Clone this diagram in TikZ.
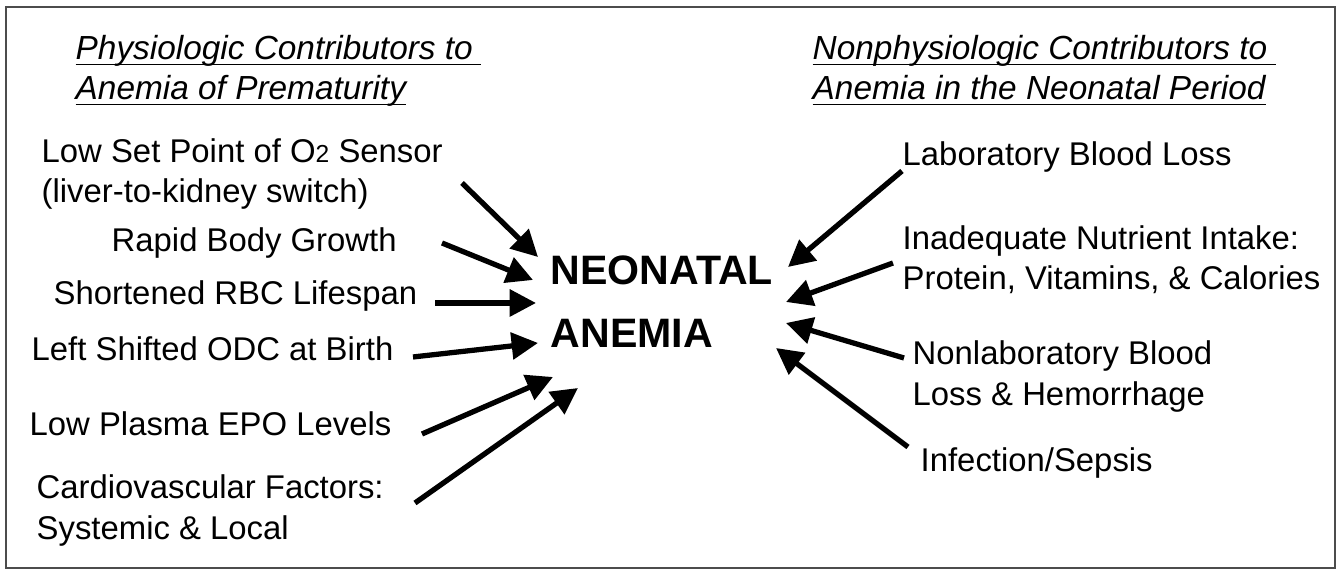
\documentclass[tikz,border=0pt]{standalone}
\usepackage{amsmath}
\usepackage{fontspec}
\setmainfont{Liberation Sans}
\usetikzlibrary{arrows.meta}

\newcommand{\ulhead}[1]{\underline{\smash[b]{#1}}}

\tikzset{
  item/.style={anchor=west, align=left, inner sep=0pt, font=\fontsize{9.35}{11.4}\selectfont},
  header/.style={item, font=\fontsize{9.5}{11.4}\selectfont\itshape},
  bigarrow/.style={line width=1.5pt, -{Triangle[length=7.5pt,width=7.5pt]}}
}

\begin{document}
\begin{tikzpicture}
\useasboundingbox (0,0) rectangle (13.41,5.72);
% Frame
\draw[gray!60!black, line width=0.6pt] (0.06,0.04) rectangle (13.35,5.65);

% Headers
\node[header] (physhead) at (0.75,5.01) {\ulhead{Physiologic Contributors to\hspace{0.25em}}\\\ulhead{Anemia of Prematurity}};
\node[header] (nonphyshead) at (8.12,5.01) {\ulhead{Nonphysiologic Contributors to\hspace{0.25em}}\\\ulhead{Anemia in the Neonatal Period}};

% Center
\node[anchor=west, align=left, inner sep=0pt, font=\fontsize{11.7}{18}\selectfont\bfseries] (anemia) at (5.50,2.705) {NEONATAL\\ANEMIA};

% Left side - physiologic
\node[item] (sensor) at (0.41,3.98) {Low Set Point of O{\fontsize{7}{8}\selectfont 2} Sensor\\(liver-to-kidney switch)};
\node[item] (growth) at (1.11,3.29) {Rapid Body Growth};
\node[item] (rbc) at (0.53,2.76) {Shortened RBC Lifespan};
\node[item] (odc) at (0.31,2.23) {Left Shifted ODC at Birth};
\node[item] (epo) at (0.29,1.48) {Low Plasma EPO Levels};
\node[item] (cardio) at (0.36,0.615) {Cardiovascular Factors:\\Systemic \& Local};

% Right side - nonphysiologic
\node[item] (lab) at (9.02,4.15) {Laboratory Blood Loss};
\node[item] (nutrient) at (9.02,3.12) {Inadequate Nutrient Intake:\\Protein, Vitamins, \& Calories};
\node[item] (nonlab) at (9.12,1.955) {Nonlaboratory Blood\\Loss \& Hemorrhage};
\node[item] (sepsis) at (9.20,1.09) {Infection/Sepsis};

% Arrow ends
\coordinate (sensorT) at (4.62,3.89);  \coordinate (sensorH) at (5.38,3.15);
\coordinate (growthT) at (4.42,3.29);  \coordinate (growthH) at (5.33,2.92);
\coordinate (rbcT) at (4.35,2.69);     \coordinate (rbcH) at (5.36,2.69);
\coordinate (odcT) at (4.13,2.15);     \coordinate (odcH) at (5.38,2.29);
\coordinate (epoT) at (4.22,1.38);     \coordinate (epoH) at (5.53,1.95);
\coordinate (cardioT) at (4.15,0.69);  \coordinate (cardioH) at (5.78,1.84);
\coordinate (labT) at (9.02,4.01);     \coordinate (labH) at (7.88,3.05);
\coordinate (nutrientT) at (8.93,3.09); \coordinate (nutrientH) at (7.86,2.70);
\coordinate (nonlabT) at (9.04,2.14);  \coordinate (nonlabH) at (7.86,2.49);
\coordinate (sepsisT) at (9.08,1.25);  \coordinate (sepsisH) at (7.76,2.24);

% Arrows
\foreach \a in {sensor,growth,rbc,odc,epo,cardio,lab,nutrient,nonlab,sepsis}
  \draw[bigarrow] (\a T) -- (\a H);

\end{tikzpicture}
\end{document}
